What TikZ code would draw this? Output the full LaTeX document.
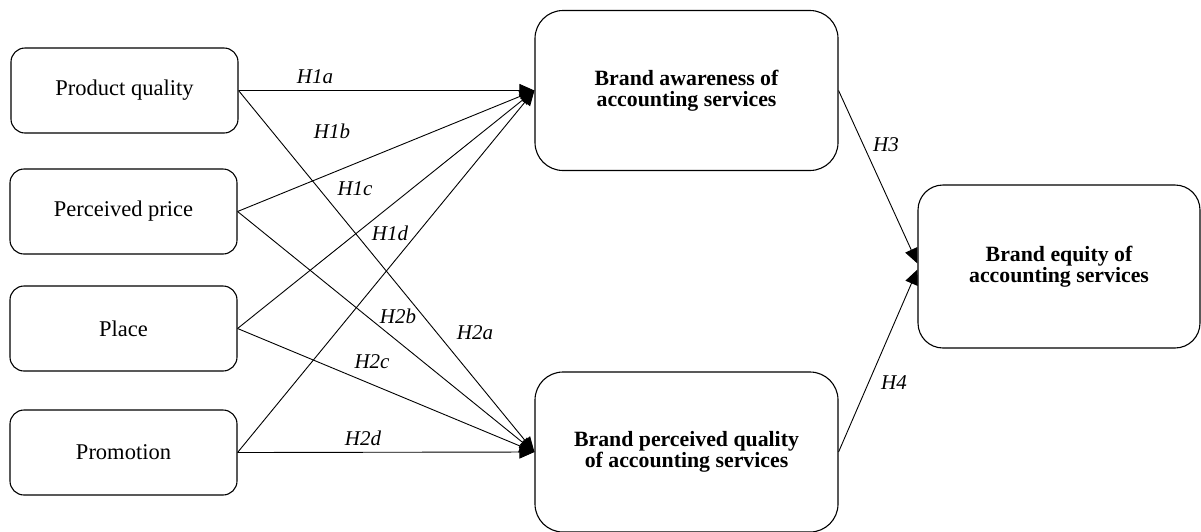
\documentclass[tikz,border=0pt]{standalone}
\usepackage{fontspec}
\setmainfont{Liberation Serif}
\usetikzlibrary{arrows.meta}
\begin{document}
\begin{tikzpicture}[x=1pt,y=-1pt,
  box/.style={draw, line width=1.1pt, rounded corners=#1, inner sep=0pt, align=center,
    font=\fontsize{22.5}{22}\selectfont},
  srcbox/.style={box=14pt, minimum width=227pt, minimum height=85pt},
  bigbox/.style={box=#1, minimum width=303pt, minimum height=160pt, font=\fontsize{21.8}{21.5}\selectfont\bfseries},
  conn/.style={line width=0.9pt, -{Triangle[length=15pt,width=13pt]}},
  lab/.style={inner sep=0pt, font=\fontsize{21}{22}\selectfont\itshape}
]
\useasboundingbox (0,0) rectangle (1201,531);

\node[srcbox] (pq) at (124.5,90.5) {Product quality};
\node[srcbox] (pp) at (123.5,211.5) {Perceived price};
\node[srcbox] (pl) at (123.5,328.5) {Place};
\node[srcbox] (pr) at (123.5,452.5) {Promotion};

\node[bigbox=28pt] (ba) at (686.5,90.5) {Brand awareness of\\accounting services};
\node[bigbox=28pt] (bq) at (686.5,452) {Brand perceived quality\\of accounting services};
\node[bigbox=25pt, minimum width=282pt, minimum height=163pt] (be) at (1059,266.5) {Brand equity of\\accounting services};

\draw[conn] (pq.east) -- (ba.west);
\draw[conn] (pp.east) -- (ba.west);
\draw[conn] (pl.east) -- (ba.west);
\draw[conn] (pr.east) -- (ba.west);
\draw[conn] (pq.east) -- (bq.west);
\draw[conn] (pp.east) -- (bq.west);
\draw[conn] (pl.east) -- (bq.west);
\draw[conn] (pr.east) -- (bq.west);
\draw[conn] (ba.east) -- ([yshift=3pt]be.west);
\draw[conn] (bq.east) -- ([yshift=-3pt]be.west);

\node[lab] (l1a) at (315,77) {H1a};
\node[lab] (l1b) at (332,131) {H1b};
\node[lab] (l1c) at (355,189) {H1c};
\node[lab] (l1d) at (390,233) {H1d};
\node[lab] (l2b) at (398,316) {H2b};
\node[lab] (l2a) at (475,333) {H2a};
\node[lab] (l2c) at (372,362) {H2c};
\node[lab] (l2d) at (363,438) {H2d};
\node[lab] (l3) at (886,145) {H3};
\node[lab] (l4) at (894,383) {H4};
\end{tikzpicture}
\end{document}
